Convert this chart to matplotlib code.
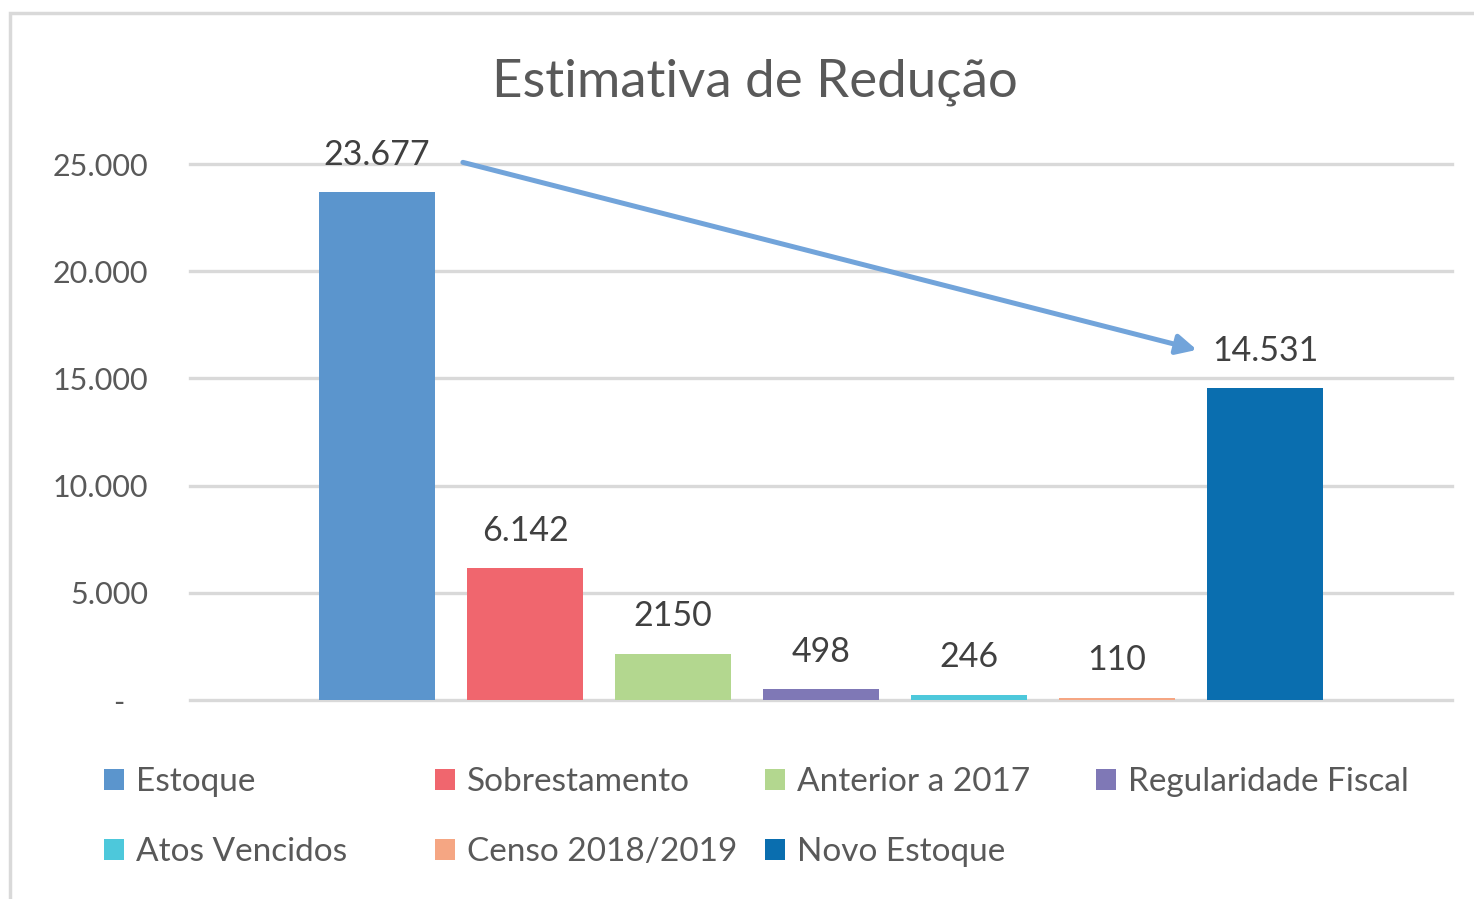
import matplotlib
matplotlib.use('Agg')
import matplotlib.pyplot as plt
from matplotlib.patches import Rectangle, Patch
import numpy as np

categories = ["Estoque", "Sobrestamento", "Anterior a 2017", "Regularidade Fiscal",
              "Atos Vencidos", "Censo 2018/2019", "Novo Estoque"]
values = [23677, 6142, 2150, 498, 246, 110, 14531]
value_labels = ["23.677", "6.142", "2150", "498", "246", "110", "14.531"]
colors = ["#5B95CD", "#F0666E", "#B3D78F", "#7F78B6", "#4DC8DB", "#F5A683", "#0A6EAF"]
yticks = [0, 5000, 10000, 15000, 20000, 25000]
ytick_labels = ["-", "5.000", "10.000", "15.000", "20.000", "25.000"]
title = "Estimativa de Redução"

plt.rcParams['font.family'] = ['Lato', 'DejaVu Sans']
W, H = 1474, 899
fig = plt.figure(figsize=(W / 100, H / 100), dpi=100)

# chart border (bottom and right edges fall outside the image)
fig.patches.append(Rectangle((10 / W, -0.05), 1.2, 1 - 13 / H + 0.05, transform=fig.transFigure,
                             fill=False, edgecolor='#d9d9d9', lw=2.5))

ax = fig.add_axes([190 / W, 1 - 700 / H, (1452 - 190) / W, (700 - 164) / H])
x = np.arange(len(categories))
ax.bar(x, values, width=0.785, color=colors, zorder=3)
ax.set_xlim(-1.264, 7.264)
ax.set_ylim(0, 25000)
ax.set_yticks(yticks)
ax.set_yticklabels([t if t != "-" else "-   " for t in ytick_labels])
ax.tick_params(axis='y', length=0, pad=30, labelsize=22, labelcolor='#595959')
ax.set_xticks([])
for sp in ax.spines.values():
    sp.set_visible(False)
ax.yaxis.grid(True, color='#d9d9d9', lw=2.4, zorder=0)
ax.set_axisbelow(True)
for ln in ax.get_ygridlines():
    ln.set_clip_on(False)

for xi, v, lbl in zip(x, values, value_labels):
    ax.annotate(lbl, (xi, v), xytext=(0, 27), textcoords='offset points',
                ha='center', va='center', fontsize=24.5, color='#404040', annotation_clip=False)

# arrow from Estoque to Novo Estoque
ax.annotate('', xy=(x[-1] - 0.46, values[-1] + 1800), xytext=(x[0] + 0.58, values[0] + 1400),
            arrowprops=dict(arrowstyle='-|>', color='#72A4DA', lw=3.6, mutation_scale=30,
                            shrinkA=0, shrinkB=0), annotation_clip=False)

fig.text(755 / W, 1 - 82 / H, title, ha='center', va='center', fontsize=38, color='#595959')

# legend: 4 columns x 2 rows, row-major
ncol = 4
col_x = [104, 435, 765, 1096]
for c in range(ncol):
    idx = [i for i in range(len(categories)) if i % ncol == c]
    handles = [Patch(facecolor=colors[i], edgecolor='none') for i in idx]
    labels = [categories[i] for i in idx]
    fig.legend(handles, labels, loc='upper left', bbox_to_anchor=(col_x[c] / W, 1 - 767 / H),
               frameon=False, fontsize=24, labelcolor='#595959', handlelength=0.6,
               handleheight=0.6, handletextpad=0.35, labelspacing=1.2, borderpad=0,
               borderaxespad=0)

fig.savefig('out.png', dpi=100)
